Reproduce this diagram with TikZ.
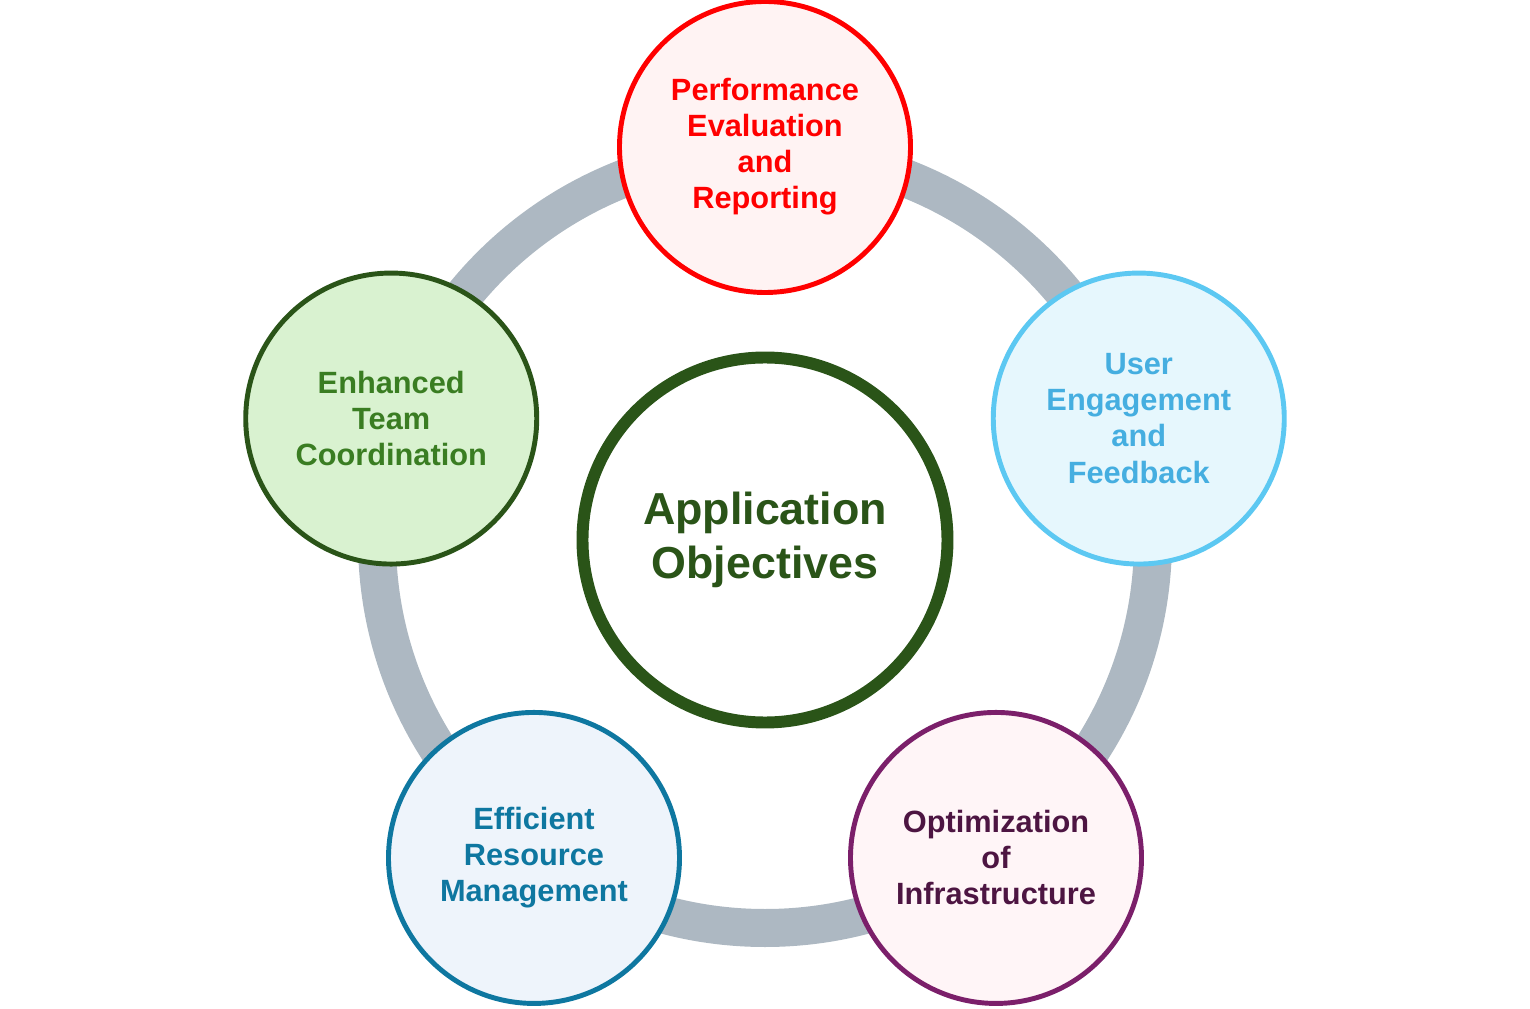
\documentclass[tikz,border=0pt]{standalone}
\usepackage{fontspec}
\setmainfont{Liberation Sans}

\definecolor{ringgray}{HTML}{ADB8C2}
\definecolor{hubgreen}{HTML}{2A5418}
\definecolor{perfline}{HTML}{FF0000}
\definecolor{perffill}{HTML}{FFF3F3}
\definecolor{userline}{HTML}{5CC8F2}
\definecolor{userfill}{HTML}{E6F7FD}
\definecolor{usertext}{HTML}{45AEE0}
\definecolor{infraline}{HTML}{7B1F6A}
\definecolor{infrafill}{HTML}{FFF5F7}
\definecolor{infratext}{HTML}{4D1542}
\definecolor{resline}{HTML}{0E77A0}
\definecolor{resfill}{HTML}{EEF4FB}
\definecolor{teamfill}{HTML}{D9F2D0}
\definecolor{teamtext}{HTML}{3A7D22}

\begin{document}
\begin{tikzpicture}[
    goal/.style={circle,line width=2.8pt,minimum size=5.82cm,inner sep=0pt,
                 align=center,font=\bfseries\fontsize{17.5}{20.5}\selectfont},
    hub/.style={circle,draw=hubgreen,line width=6.8pt,minimum size=7.3cm,inner sep=0pt,
                fill=white,text=hubgreen,align=center,
                font=\bfseries\fontsize{25.5}{30.8}\selectfont}]

                \useasboundingbox (-15.3,-9.38) rectangle (15.3,10.8);

                \node[hub] (hub) at (0,0) {Application\\Objectives};

                \draw[ringgray,line width=0.76cm] (hub.center) circle (7.76);

                \node[goal,draw=perfline,fill=perffill,text=perfline] (perf) at (90:7.86)
                    {Performance\\Evaluation\\and\\Reporting};

                \node[goal,draw=userline,fill=userfill,text=usertext] (user) at (18:7.86)
                    {User\\Engagement\\and\\Feedback};

                \node[goal,draw=infraline,fill=infrafill,text=infratext] (infra) at (-54:7.86)
                    {Optimization\\of\\Infrastructure};

                \node[goal,draw=resline,fill=resfill,text=resline] (res) at (-126:7.86)
                    {Efficient\\Resource\\Management};

                \node[goal,draw=hubgreen,fill=teamfill,text=teamtext] (team) at (162:7.86)
                    {Enhanced\\Team\\Coordination};

            \end{tikzpicture}
\end{document}
